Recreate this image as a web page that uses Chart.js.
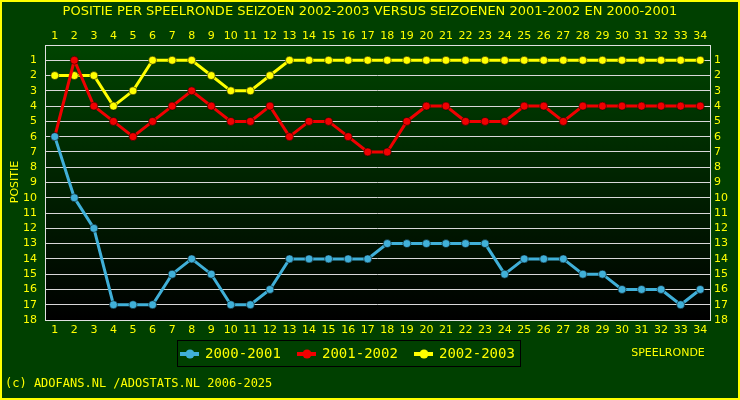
<!DOCTYPE html><html><head><style>body{margin:0;background:#004000}canvas{display:block}</style>
<script src="https://cdn.jsdelivr.net/npm/chart.js@4/dist/chart.umd.min.js"></script></head><body>
<div style="width:740px;height:400px"><canvas id="c"></canvas></div>
<script>
const rounds=Array.from({length:34},(_,i)=>String(i+1));
const s2000=[6,10,12,17,17,17,15,14,15,17,17,16,14,14,14,14,14,13,13,13,13,13,13,15,14,14,14,15,15,16,16,16,17,16];
const s2001=[6,1,4,5,6,5,4,3,4,5,5,4,6,5,5,6,7,7,5,4,4,5,5,5,4,4,5,4,4,4,4,4,4,4];
const s2002=[2,2,2,4,3,1,1,1,2,3,3,2,1,1,1,1,1,1,1,1,1,1,1,1,1,1,1,1,1,1,1,1,1,1];
const names=['2000-2001','2001-2002','2002-2003'];
const cols=['#40b0d8','#f00000','#ffff00'];
const Y='#ffff00';
const deco={id:'deco',beforeDraw(ch){const a=ch.chartArea,c=ch.ctx;c.save();
 const g=c.createLinearGradient(0,a.top,0,a.bottom);g.addColorStop(0,'#004400');g.addColorStop(1,'#000000');
 c.fillStyle=g;c.fillRect(a.left,a.top,a.right-a.left,a.bottom-a.top);c.restore();},
 afterDraw(ch){const a=ch.chartArea,c=ch.ctx;c.save();
 c.strokeStyle='#e0e0e0';c.lineWidth=1;c.strokeRect(a.left+0.5,a.top+0.5,a.right-a.left,a.bottom-a.top);
 c.strokeStyle=Y;c.lineWidth=2;c.strokeRect(1,1,738,398);
 c.fillStyle=Y;c.font='13px "DejaVu Sans"';c.textAlign='center';c.textBaseline='middle';
 c.fillText('POSITIE PER SPEELRONDE SEIZOEN 2002-2003 VERSUS SEIZOENEN 2001-2002 EN 2000-2001',370,12);
 c.font='11px "DejaVu Sans"';c.fillText('SPEELRONDE',668,353);
 c.save();c.translate(15,182);c.rotate(-Math.PI/2);c.fillText('POSITIE',0,0);c.restore();
 c.font='12px "DejaVu Sans Mono"';c.textAlign='left';c.fillText('(c) ADOFANS.NL /ADOSTATS.NL 2006-2025',5,384);
 c.strokeStyle='#000';c.lineWidth=1;c.strokeRect(177.5,340.5,343,26);
 c.font='14px "DejaVu Sans Mono"';
 const xs=[180,297,414];
 for(let i=0;i<3;i++){const x=xs[i];c.strokeStyle=cols[i];c.lineWidth=4;c.beginPath();c.moveTo(x+0,354);c.lineTo(x+19,354);c.stroke();
  c.fillStyle=cols[i];c.beginPath();c.arc(x+10,354,4.5,0,7);c.fill();c.fillStyle=Y;c.fillText(names[i],x+25,354);}
 c.restore();}};
const tk={color:Y,font:{family:'DejaVu Sans',size:11},autoSkip:false};
new Chart(document.getElementById('c'),{type:'line',
 data:{labels:rounds,datasets:[s2000,s2001,s2002].map((d,i)=>({label:names[i],data:d,borderColor:cols[i],backgroundColor:cols[i],borderWidth:3,pointRadius:4,pointBorderColor:'#000',pointBorderWidth:0.5,tension:0}))},
 options:{responsive:true,maintainAspectRatio:false,animation:false,layout:{padding:{top:0,bottom:60,left:0,right:0}},
 plugins:{legend:{display:false},tooltip:{enabled:false}},
 scales:{
  x:{position:'bottom',offset:true,grid:{display:false,drawTicks:false},border:{display:false},ticks:{...tk,padding:4,maxRotation:0},afterFit(s){s.height=20}},
  x2:{position:'top',offset:true,labels:rounds,grid:{display:false,drawTicks:false},border:{display:false},ticks:{...tk,padding:2,maxRotation:0},afterFit(s){s.height=45}},
  y:{reverse:true,min:0,max:18,afterBuildTicks(s){s.ticks=[];for(let v=1;v<=18;v++)s.ticks.push({value:v})},grid:{color:'#d8d8d8',lineWidth:1,drawTicks:false},border:{display:false},ticks:{...tk,padding:8},afterFit(s){s.width=45}},
  y2:{position:'right',reverse:true,min:0,max:18,afterBuildTicks(s){s.ticks=[];for(let v=1;v<=18;v++)s.ticks.push({value:v})},grid:{display:false,drawTicks:false},border:{display:false},ticks:{...tk,padding:4},afterFit(s){s.width=30}}
 }},plugins:[deco]});
</script></body></html>
